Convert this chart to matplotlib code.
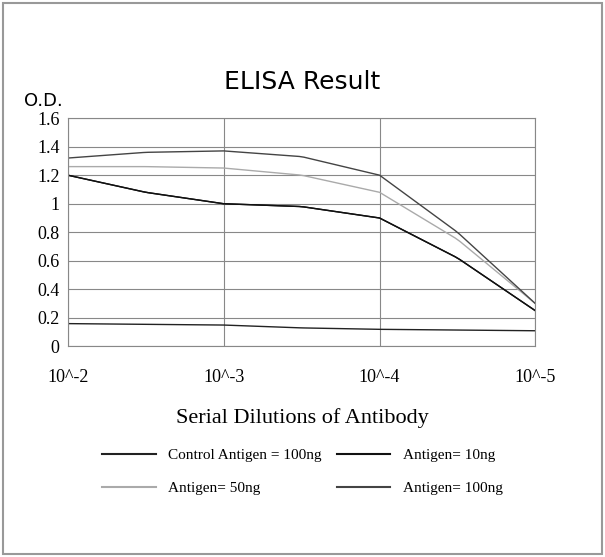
import matplotlib.pyplot as plt
import numpy as np
from matplotlib.patches import Rectangle

x = [0, 0.5, 1, 1.5, 2, 2.5, 3]
xlabels = ["10^-2", "10^-3", "10^-4", "10^-5"]
control = [0.16, 0.155, 0.15, 0.13, 0.12, 0.115, 0.11]
ag10 = [1.2, 1.08, 1.0, 0.98, 0.9, 0.62, 0.25]
ag50 = [1.26, 1.26, 1.25, 1.2, 1.08, 0.75, 0.3]
ag100 = [1.32, 1.36, 1.37, 1.33, 1.2, 0.8, 0.3]
names = ["Control Antigen = 100ng", "Antigen= 10ng", "Antigen= 50ng", "Antigen= 100ng"]
colors = ["#222222", "#111111", "#aaaaaa", "#444444"]

fig = plt.figure(figsize=(6.05, 5.57), dpi=100)
fig.patches.append(Rectangle((0.005, 0.005), 0.99, 0.99, transform=fig.transFigure,
                             fill=False, edgecolor="#999999", lw=1.5))
ax = fig.add_axes([0.112, 0.378, 0.773, 0.41])
xs = np.linspace(0, 3, 100)
for ys, c in zip([control, ag10, ag50, ag100], colors):
    ax.plot(xs, np.interp(xs, x, ys), color=c, lw=1)
ax.plot(xs, np.interp(xs, x, ag10), color=colors[1], lw=1)
ax.set_xlim(0, 3)
ax.set_ylim(0, 1.6)
ax.set_yticks(np.arange(0, 1.61, 0.2))
ax.set_yticklabels(["0", "0.2", "0.4", "0.6", "0.8", "1", "1.2", "1.4", "1.6"],
                   fontfamily="Liberation Serif", fontsize=13)
ax.set_xticks([0, 1, 2, 3])
ax.set_xticklabels(xlabels, fontfamily="Liberation Serif", fontsize=13)
ax.grid(True, color="#888888", lw=0.8)
ax.tick_params(axis="y", length=0, pad=6)
ax.tick_params(axis="x", length=0, pad=16)
for s in ax.spines.values():
    s.set_color("#888888")
fig.text(0.5, 0.84, "ELISA Result", ha="center", fontsize=18, fontfamily="DejaVu Sans")
fig.text(0.04, 0.81, "O.D.", fontsize=13, fontfamily="DejaVu Sans")
fig.text(0.5, 0.24, "Serial Dilutions of Antibody", ha="center", fontsize=16,
         fontfamily="Liberation Serif")
order = [0, 2, 1, 3]
fig.legend([plt.Line2D([], [], color=colors[i]) for i in order], [names[i] for i in order],
           loc="upper center", bbox_to_anchor=(0.5, 0.22), ncol=2, frameon=False,
           prop={"family": "Liberation Serif", "size": 11}, columnspacing=1.0,
           handlelength=3.5, labelspacing=1.3)
fig.savefig("out.png", dpi=100)
